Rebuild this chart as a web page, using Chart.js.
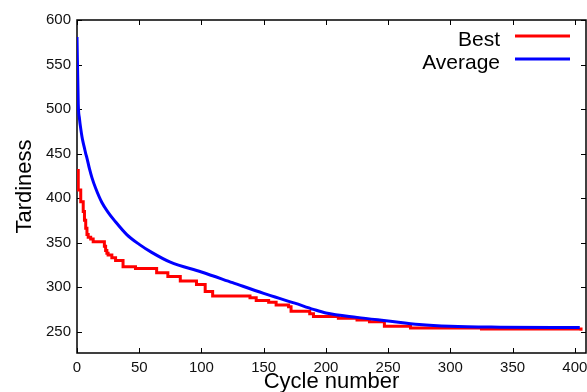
<!DOCTYPE html>
<html>
<head>
<meta charset="utf-8">
<script src="https://cdn.jsdelivr.net/npm/chart.js@4.4.1/dist/chart.umd.min.js"></script>
<style>
  html, body { margin: 0; padding: 0; background: #fff; }
  #wrap { width: 587px; height: 392px; position: relative; }
</style>
</head>
<body>
<div id="wrap"><canvas id="tardChart"></canvas></div>
<script>
// --- data ---
const avgCycles    = [0, 1, 2, 3, 4, 5, 6, 7, 8, 10, 12, 15, 20, 25, 30, 40, 50, 60, 75, 100, 125, 150, 175, 190, 200, 225, 250, 275, 300, 340, 404];
const avgTardiness = [581, 506, 489, 478, 469, 462, 456, 450, 445, 433, 423, 411, 395, 384, 375, 359, 348, 339, 328, 317, 305, 293, 282, 275, 271, 266, 262, 258, 256, 255, 254.5];

const bestCycles    = [0, 1, 3, 5, 6, 7, 8, 9, 11, 13, 22, 23, 24, 25, 28, 31, 37, 47, 64, 73, 83, 96, 103, 109, 139, 144, 154, 160, 170, 172, 187, 190, 210, 225, 235, 247, 268, 325, 404, 405];
const bestTardiness = [431, 409, 396, 385, 375, 366, 359, 356, 354, 351, 346, 341, 338, 336, 333, 330, 323, 321, 316, 312, 307, 303, 295, 290, 288, 285, 283, 280, 278, 273, 270, 267, 265, 263, 261, 256, 254, 253, 253, 251];

const xTicks = [0, 50, 100, 150, 200, 250, 300, 350, 400];
const yTicks = [250, 300, 350, 400, 450, 500, 550, 600];

const seriesNames = ['Best', 'Average'];
const seriesColors = ['#ff0000', '#0000ff'];

const FONT = '"Liberation Sans", Arial, Helvetica, sans-serif';

// frame + inward ticks on all four sides (gnuplot look)
const framePlugin = {
  id: 'frame',
  beforeDatasetsDraw(chart) {
    const { ctx, chartArea: a, scales } = chart;
    ctx.save();
    ctx.strokeStyle = '#000';
    ctx.lineWidth = 1;
    ctx.beginPath();
    xTicks.forEach(v => {
      const px = Math.round(scales.x.getPixelForValue(v)) + 0.5;
      ctx.moveTo(px, a.bottom); ctx.lineTo(px, a.bottom - 5);
      ctx.moveTo(px, a.top); ctx.lineTo(px, a.top + 5);
    });
    yTicks.forEach(v => {
      const py = Math.round(scales.y.getPixelForValue(v)) + 0.5;
      ctx.moveTo(a.left, py); ctx.lineTo(a.left + 5, py);
      ctx.moveTo(a.right, py); ctx.lineTo(a.right - 5, py);
    });
    ctx.stroke();
    ctx.lineWidth = 1.5;
    ctx.strokeRect(a.left, a.top, a.right - a.left, a.bottom - a.top);
    ctx.restore();
  },
  afterDraw(chart) {
    // legend: text right aligned, line sample on the right
    const ctx = chart.ctx;
    ctx.save();
    ctx.font = '21px ' + FONT;
    ctx.textAlign = 'right';
    ctx.textBaseline = 'alphabetic';
    const rows = [36, 59];
    seriesNames.forEach((name, i) => {
      ctx.fillStyle = '#000';
      ctx.fillText(name, 500, rows[i] + 10);
      ctx.strokeStyle = seriesColors[i];
      ctx.lineWidth = 3;
      ctx.beginPath();
      ctx.moveTo(515, rows[i]);
      ctx.lineTo(570, rows[i]);
      ctx.stroke();
    });
    ctx.restore();
  }
};

const ctx = document.getElementById('tardChart').getContext('2d');

new Chart(ctx, {
  type: 'line',
  data: {
    datasets: [
      {
        label: seriesNames[0],
        data: bestCycles.map((c, i) => ({ x: c, y: bestTardiness[i] })),
        borderColor: seriesColors[0],
        borderWidth: 3,
        pointRadius: 0,
        stepped: true,
        fill: false,
        order: 1
      },
      {
        label: seriesNames[1],
        data: avgCycles.map((c, i) => ({ x: c, y: avgTardiness[i] })),
        borderColor: seriesColors[1],
        borderWidth: 3,
        pointRadius: 0,
        cubicInterpolationMode: 'monotone',
        fill: false,
        order: 0
      }
    ]
  },
  options: {
    responsive: true,
    maintainAspectRatio: false,
    animation: false,
    layout: { padding: { top: 20, right: 1, left: 0, bottom: 0 } },
    plugins: {
      legend: { display: false },
      tooltip: { enabled: false }
    },
    scales: {
      x: {
        type: 'linear',
        min: 0,
        max: 409,
        grid: { display: false, drawTicks: false },
        border: { display: false },
        afterBuildTicks: s => { s.ticks = xTicks.map(v => ({ value: v })); },
        afterFit: s => { s.height = 39; s.paddingLeft = 0; s.paddingRight = 0; },
        ticks: {
          padding: 6,
          maxRotation: 0,
          color: '#111',
          font: { family: FONT, size: 15 }
        },
        title: {
          display: true,
          text: 'Cycle number',
          color: '#000',
          padding: { top: 0, bottom: 0 },
          font: { family: FONT, size: 22, lineHeight: 0.9 }
        }
      },
      y: {
        min: 226,
        max: 600,
        grid: { display: false, drawTicks: false },
        border: { display: false },
        afterBuildTicks: s => { s.ticks = yTicks.map(v => ({ value: v })); },
        afterFit: s => { s.width = 77; s.paddingTop = 0; s.paddingBottom = 0; },
        ticks: {
          padding: 6,
          color: '#111',
          font: { family: FONT, size: 15 }
        },
        title: {
          display: true,
          text: 'Tardiness',
          color: '#000',
          padding: { top: 15, bottom: 0 },
          font: { family: FONT, size: 22, lineHeight: 0.9 }
        }
      }
    }
  },
  plugins: [framePlugin]
});
</script>
</body>
</html>
